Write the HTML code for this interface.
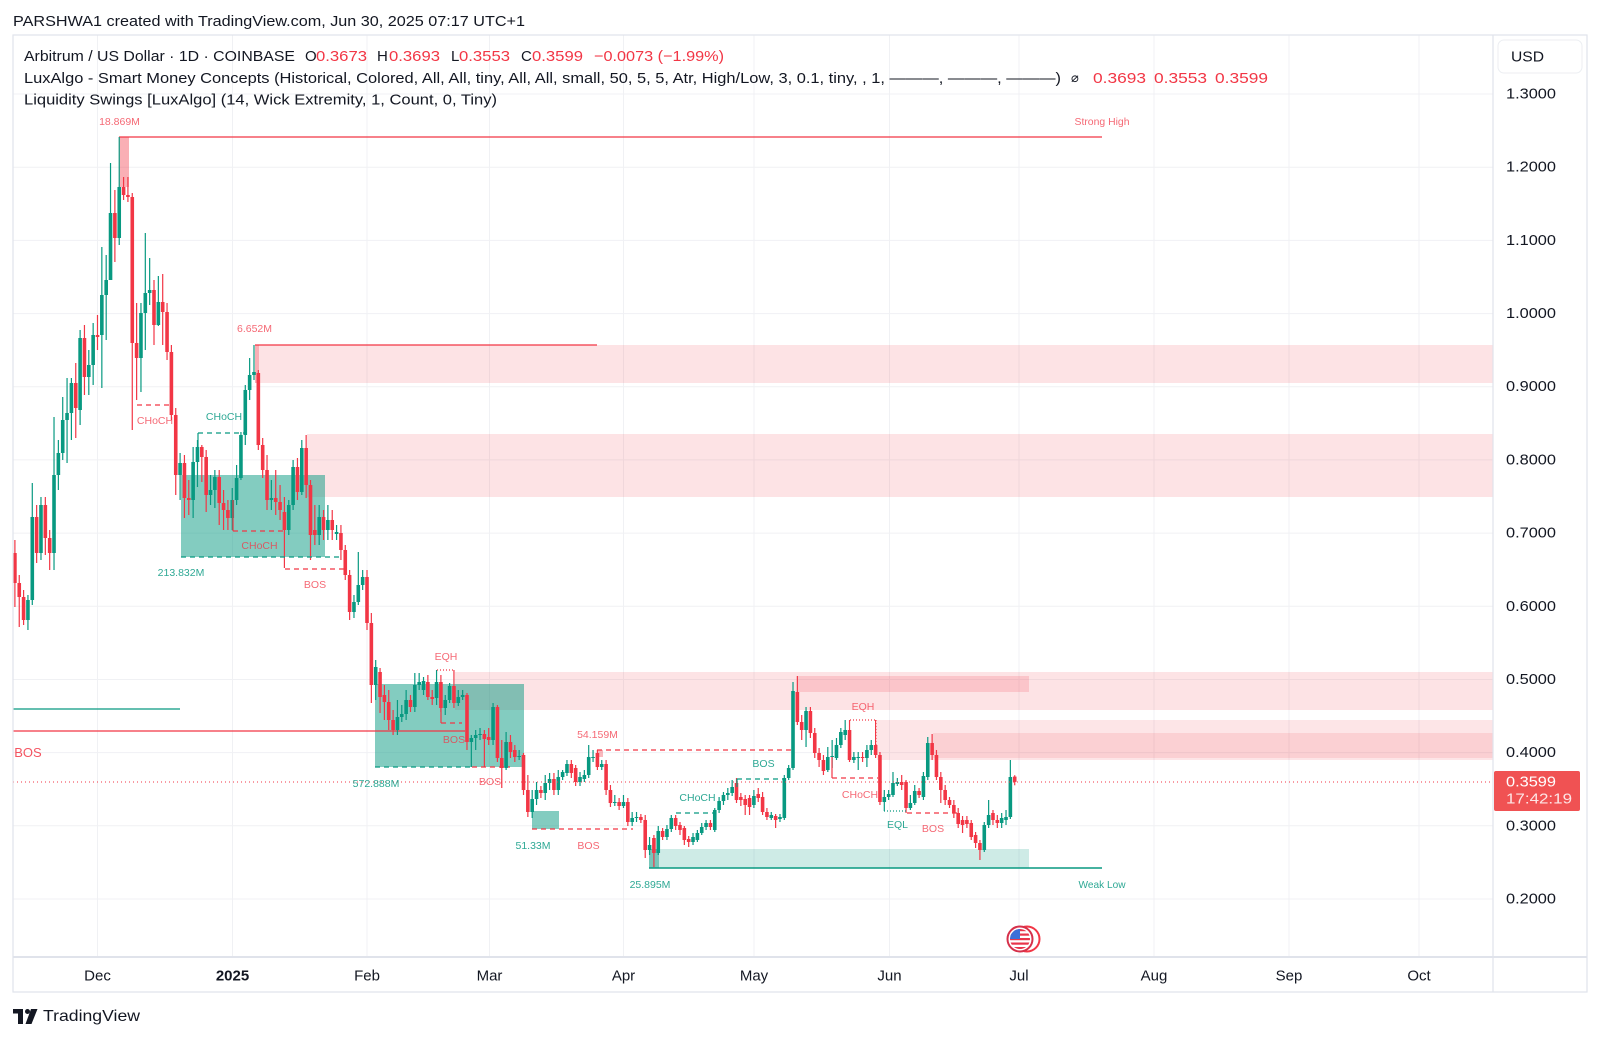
<!DOCTYPE html>
<html><head><meta charset="utf-8">
<style>
html,body{margin:0;padding:0;background:#fff;}
svg{display:block;font-family:"Liberation Sans","DejaVu Sans",sans-serif;}
.lg{font-size:15px;fill:#131722;}
.r{fill:#f23645;}
.ax{font-size:15px;fill:#131722;}
.lbr{font-size:10.5px;fill:#f23645;fill-opacity:0.75;}
.lbg{font-size:10.5px;fill:#089981;fill-opacity:0.85;}
</style></head>
<body>
<svg id="s" width="1600" height="1038" viewBox="0 0 1600 1038" xmlns="http://www.w3.org/2000/svg">
<rect x="0" y="0" width="1600" height="1038" fill="#fff"/>
<!-- grid -->
<g stroke="#f0f1f4" stroke-width="1">
<line x1="97.5" y1="35" x2="97.5" y2="957"/><line x1="232.5" y1="35" x2="232.5" y2="957"/>
<line x1="367" y1="35" x2="367" y2="957"/><line x1="489.5" y1="35" x2="489.5" y2="957"/>
<line x1="623.5" y1="35" x2="623.5" y2="957"/><line x1="754" y1="35" x2="754" y2="957"/>
<line x1="889.5" y1="35" x2="889.5" y2="957"/><line x1="1019" y1="35" x2="1019" y2="957"/>
<line x1="1154" y1="35" x2="1154" y2="957"/><line x1="1289" y1="35" x2="1289" y2="957"/>
<line x1="1419" y1="35" x2="1419" y2="957"/>
<line x1="13" y1="94" x2="1493" y2="94"/><line x1="13" y1="167.2" x2="1493" y2="167.2"/>
<line x1="13" y1="240.4" x2="1493" y2="240.4"/><line x1="13" y1="313.6" x2="1493" y2="313.6"/>
<line x1="13" y1="386.7" x2="1493" y2="386.7"/><line x1="13" y1="459.9" x2="1493" y2="459.9"/>
<line x1="13" y1="533.1" x2="1493" y2="533.1"/><line x1="13" y1="606.3" x2="1493" y2="606.3"/>
<line x1="13" y1="679.5" x2="1493" y2="679.5"/><line x1="13" y1="752.6" x2="1493" y2="752.6"/>
<line x1="13" y1="825.8" x2="1493" y2="825.8"/><line x1="13" y1="899" x2="1493" y2="899"/>
</g>
<!-- zones -->
<g fill="#f23645">
<rect x="255" y="345" width="1238" height="38" fill-opacity="0.14"/>
<rect x="255" y="345" width="4" height="38" fill-opacity="0.3"/>
<rect x="307" y="434" width="1186" height="63" fill-opacity="0.14"/>
<rect x="455" y="672" width="1038" height="38" fill-opacity="0.14"/>
<rect x="797" y="676" width="232" height="16" fill-opacity="0.17"/>
<rect x="877" y="720" width="616" height="40" fill-opacity="0.13"/>
<rect x="933" y="733" width="560" height="25" fill-opacity="0.12"/>
<rect x="119" y="137" width="10" height="50" fill-opacity="0.4"/>
<rect x="597" y="750" width="6" height="7" fill-opacity="0.35"/>
</g>
<g fill="#089981">
<rect x="181" y="475" width="144" height="82" fill-opacity="0.5"/>
<rect x="375" y="684" width="149" height="83" fill-opacity="0.5"/>
<rect x="532" y="811" width="27" height="18" fill-opacity="0.5"/>
<rect x="649" y="849" width="10" height="19" fill-opacity="0.55"/>
<rect x="659" y="849" width="370" height="19" fill-opacity="0.2"/>
</g>
<!-- solid lines -->
<g stroke-width="1.3" fill="none">
<line x1="119" y1="137" x2="1102" y2="137" stroke="#f23645"/>
<line x1="255" y1="345" x2="597" y2="345" stroke="#f23645"/>
<line x1="13" y1="709" x2="180" y2="709" stroke="#089981"/>
<line x1="13" y1="731" x2="465" y2="731" stroke="#f23645"/>
<line x1="649" y1="868" x2="1102" y2="868" stroke="#089981" stroke-width="1.6"/>
</g>
<!-- candles -->
<g id="candles"></g>
<!-- current price line -->
<line x1="13" y1="782" x2="1493" y2="782" stroke="#f23645" stroke-width="1" stroke-dasharray="1,3"/>
<!-- dashed structure -->
<g fill="none" stroke-width="1.2" stroke-dasharray="5,4">
<line x1="137" y1="405" x2="172" y2="405" stroke="#f23645"/>
<line x1="198" y1="433" x2="245" y2="433" stroke="#089981"/>
<line x1="233" y1="531" x2="285" y2="531" stroke="#f23645"/>
<line x1="285" y1="569" x2="345" y2="569" stroke="#f23645"/>
<line x1="181" y1="557" x2="342" y2="557" stroke="#089981"/>
<line x1="441" y1="723" x2="462" y2="723" stroke="#f23645"/>
<line x1="375" y1="767" x2="470" y2="767" stroke="#089981"/>
<line x1="472" y1="767" x2="510" y2="767" stroke="#f23645"/>
<line x1="532" y1="829" x2="633" y2="829" stroke="#f23645"/>
<line x1="597" y1="750" x2="792" y2="750" stroke="#f23645"/>
<line x1="676" y1="813" x2="713" y2="813" stroke="#089981"/>
<line x1="737" y1="779" x2="785" y2="779" stroke="#089981"/>
<line x1="832" y1="778" x2="878" y2="778" stroke="#f23645"/>
<line x1="907" y1="813" x2="957" y2="813" stroke="#f23645"/>
</g>
<g fill="none" stroke-width="1.2">
<line x1="198" y1="433" x2="198" y2="447" stroke="#089981"/>
<line x1="233" y1="500" x2="233" y2="531" stroke="#f23645"/>
<line x1="441" y1="707" x2="441" y2="723" stroke="#f23645"/>
<line x1="737" y1="779" x2="737" y2="787" stroke="#089981"/>
<line x1="832" y1="757" x2="832" y2="778" stroke="#f23645"/>
<line x1="437" y1="670" x2="454" y2="670" stroke="#f23645" stroke-dasharray="1,2"/>
<line x1="850" y1="720" x2="876" y2="720" stroke="#f23645" stroke-dasharray="1,2"/>
<line x1="876" y1="720" x2="876" y2="755" stroke="#f23645" stroke-dasharray="1,2"/>
<line x1="884" y1="811" x2="907" y2="811" stroke="#089981" stroke-dasharray="1,2"/>
</g>
<!-- labels -->
<g text-anchor="middle" dominant-baseline="central">
<text class="lbr" x="119.5" y="122">18.869M</text>
<text class="lbr" x="1102" y="122" textLength="55" lengthAdjust="spacingAndGlyphs">Strong High</text>
<text class="lbr" x="254.5" y="329">6.652M</text>
<text class="lbr" x="155" y="421">CHoCH</text>
<text class="lbg" x="224" y="417">CHoCH</text>
<text class="lbg" x="181" y="573">213.832M</text>
<text class="lbr" x="259.5" y="546">CHoCH</text>
<text class="lbr" x="315" y="585">BOS</text>
<text class="lbr" x="446" y="657">EQH</text>
<text class="lbr" x="454" y="740">BOS</text>
<text class="lbr" x="490" y="782">BOS</text>
<text class="lbg" x="376" y="784">572.888M</text>
<text class="lbr" x="597.5" y="735">54.159M</text>
<text class="lbg" x="533" y="846">51.33M</text>
<text class="lbr" x="588.5" y="846">BOS</text>
<text class="lbg" x="697.5" y="798">CHoCH</text>
<text class="lbg" x="763.5" y="764">BOS</text>
<text class="lbr" x="863" y="707">EQH</text>
<text class="lbr" x="860" y="795">CHoCH</text>
<text class="lbg" x="897.5" y="825">EQL</text>
<text class="lbr" x="933" y="829">BOS</text>
<text class="lbg" x="650" y="885">25.895M</text>
<text class="lbg" x="1102" y="885" textLength="47" lengthAdjust="spacingAndGlyphs">Weak Low</text>
<text x="28" y="752.5" style="font-size:13px;fill:#f23645;fill-opacity:0.85">BOS</text>
</g>
<!-- flag icon -->
<defs><clipPath id="fc"><circle cx="1020" cy="939" r="10"/></clipPath></defs>
<circle cx="1027" cy="939" r="12.5" fill="#fff" stroke="#f23645" stroke-width="2"/>
<circle cx="1020" cy="939" r="12.5" fill="#fff" stroke="#d6304a" stroke-width="2"/>
<g clip-path="url(#fc)">
<rect x="1008" y="927" width="24" height="24" fill="#fff"/>
<rect x="1008" y="929" width="24" height="2.2" fill="#e8344a"/>
<rect x="1008" y="933.5" width="24" height="2.2" fill="#e8344a"/>
<rect x="1008" y="938" width="24" height="2.2" fill="#e8344a"/>
<rect x="1008" y="942.5" width="24" height="2.2" fill="#e8344a"/>
<rect x="1008" y="947" width="24" height="2.2" fill="#e8344a"/>
<rect x="1008" y="927" width="12" height="12" fill="#3c6fd8"/>
</g>
<!-- borders -->
<g stroke="#e0e3eb" stroke-width="1.2" fill="none">
<rect x="13" y="35" width="1574" height="957"/>
<line x1="1493" y1="35" x2="1493" y2="992"/>
<line x1="13" y1="957" x2="1587" y2="957" stroke-width="2"/>
</g>
<rect x="1498" y="40" width="84" height="33" rx="6" fill="#fff" stroke="#eceef2"/>
<text class="ax" x="1511" y="57" dominant-baseline="central" textLength="33" lengthAdjust="spacingAndGlyphs">USD</text>
<!-- price axis -->
<g class="ax" dominant-baseline="central">
<text x="1506" y="94" textLength="50" lengthAdjust="spacingAndGlyphs">1.3000</text>
<text x="1506" y="167.2" textLength="50" lengthAdjust="spacingAndGlyphs">1.2000</text>
<text x="1506" y="240.4" textLength="50" lengthAdjust="spacingAndGlyphs">1.1000</text>
<text x="1506" y="313.6" textLength="50" lengthAdjust="spacingAndGlyphs">1.0000</text>
<text x="1506" y="386.7" textLength="50" lengthAdjust="spacingAndGlyphs">0.9000</text>
<text x="1506" y="459.9" textLength="50" lengthAdjust="spacingAndGlyphs">0.8000</text>
<text x="1506" y="533.1" textLength="50" lengthAdjust="spacingAndGlyphs">0.7000</text>
<text x="1506" y="606.3" textLength="50" lengthAdjust="spacingAndGlyphs">0.6000</text>
<text x="1506" y="679.5" textLength="50" lengthAdjust="spacingAndGlyphs">0.5000</text>
<text x="1506" y="752.6" textLength="50" lengthAdjust="spacingAndGlyphs">0.4000</text>
<text x="1506" y="825.8" textLength="50" lengthAdjust="spacingAndGlyphs">0.3000</text>
<text x="1506" y="899" textLength="50" lengthAdjust="spacingAndGlyphs">0.2000</text>
</g>
<rect x="1494" y="771" width="86" height="40" rx="2" fill="#f05253"/>
<text x="1506" y="782" dominant-baseline="central" style="font-size:15px;fill:#fff" textLength="50" lengthAdjust="spacingAndGlyphs">0.3599</text>
<text x="1506" y="799" dominant-baseline="central" style="font-size:15px;fill:#fff;fill-opacity:0.85" textLength="66" lengthAdjust="spacingAndGlyphs">17:42:19</text>
<!-- time axis -->
<g class="ax" text-anchor="middle" dominant-baseline="central">
<text x="97.5" y="976">Dec</text>
<text x="232.5" y="976" style="font-weight:bold">2025</text>
<text x="367" y="976">Feb</text>
<text x="489.5" y="976">Mar</text>
<text x="623.5" y="976">Apr</text>
<text x="754" y="976">May</text>
<text x="889.5" y="976">Jun</text>
<text x="1019" y="976">Jul</text>
<text x="1154" y="976">Aug</text>
<text x="1289" y="976">Sep</text>
<text x="1419" y="976">Oct</text>
</g>
<!-- header & legend -->
<g dominant-baseline="central">
<text class="lg" x="13" y="21.5" textLength="512" lengthAdjust="spacingAndGlyphs">PARSHWA1 created with TradingView.com, Jun 30, 2025 07:17 UTC+1</text>
<text class="lg" x="24" y="56.5" textLength="271" lengthAdjust="spacingAndGlyphs">Arbitrum / US Dollar · 1D · COINBASE</text>
<text class="lg" x="305" y="56.5">O</text><text class="lg r" x="316" y="56.5" textLength="51" lengthAdjust="spacingAndGlyphs">0.3673</text>
<text class="lg" x="377" y="56.5">H</text><text class="lg r" x="389" y="56.5" textLength="51" lengthAdjust="spacingAndGlyphs">0.3693</text>
<text class="lg" x="451" y="56.5">L</text><text class="lg r" x="459" y="56.5" textLength="51" lengthAdjust="spacingAndGlyphs">0.3553</text>
<text class="lg" x="521" y="56.5">C</text><text class="lg r" x="532" y="56.5" textLength="51" lengthAdjust="spacingAndGlyphs">0.3599</text>
<text class="lg r" x="594" y="56.5" textLength="130" lengthAdjust="spacingAndGlyphs">−0.0073 (−1.99%)</text>
<text class="lg" x="24" y="78.5" textLength="1037" lengthAdjust="spacingAndGlyphs">LuxAlgo - Smart Money Concepts (Historical, Colored, All, All, tiny, All, All, small, 50, 5, 5, Atr, High/Low, 3, 0.1, tiny, , 1, ———, ———, ———)</text>
<text class="lg" x="1071" y="78.5" style="font-family:'DejaVu Sans',sans-serif;font-size:13px">⌀</text>
<text class="lg r" x="1093" y="78.5" textLength="53" lengthAdjust="spacingAndGlyphs">0.3693</text>
<text class="lg r" x="1154" y="78.5" textLength="53" lengthAdjust="spacingAndGlyphs">0.3553</text>
<text class="lg r" x="1215" y="78.5" textLength="53" lengthAdjust="spacingAndGlyphs">0.3599</text>
<text class="lg" x="24" y="100" textLength="473" lengthAdjust="spacingAndGlyphs">Liquidity Swings [LuxAlgo] (14, Wick Extremity, 1, Count, 0, Tiny)</text>
</g>
<!-- footer logo -->
<g fill="#131722">
<rect x="13" y="1009" width="10" height="4.5"/>
<rect x="18" y="1009" width="5" height="15"/>
<circle cx="27.5" cy="1011.5" r="2.5"/>
<polygon points="31,1009 37.5,1009 31.5,1024 25.5,1024"/>
</g>
<text x="43" y="1016.5" dominant-baseline="central" style="font-size:16px;fill:#131722" textLength="97" lengthAdjust="spacingAndGlyphs">TradingView</text>
</svg>
<script>
(function(){
var d=[
[553,583,540,607],[583,597,575,627],[597,620,590,625],[620,600,595,630],[600,517,483,605],
[517,553,505,563],[553,505,497,560],[505,538,497,555],[538,553,530,570],[553,475,417,570],
[475,453,440,490],[453,420,397,460],[420,413,378,463],[413,383,378,440],[383,408,363,438],
[410,338,330,425],[338,377,325,395],[377,365,350,395],[365,335,323,385],[335,337,315,350],
[335,295,247,388],[295,280,255,340],[280,213,163,280],[213,238,190,262],[238,187,137,245],
[187,195,177,200],[195,197,177,202],[197,343,193,430],[343,358,303,400],[358,313,303,392],
[313,293,233,350],[293,290,258,305],[290,325,280,345],[325,302,276,326],[302,312,274,345],
[312,352,303,360],[352,415,345,420],[415,475,408,495],[475,463,453,500],[463,498,455,518],
[498,500,480,515],[500,462,447,518],[462,447,440,487],[447,457,445,482],[457,495,450,512],
[495,490,475,505],[490,477,470,508],[477,503,470,525],[503,510,490,530],[510,518,500,530],
[518,500,488,530],[500,478,465,505],[478,435,432,480],[435,390,385,445],[390,375,358,400],
[375,372,345,380],[373,445,370,450],[445,470,438,478],[470,500,455,510],[500,498,480,510],
[498,502,470,515],[502,510,485,520],[512,530,497,568],[530,505,500,535],[505,467,460,510],
[467,492,458,500],[492,448,440,495],[448,485,435,498],[485,535,480,560],[530,535,505,545],
[535,517,505,545],[517,530,510,540],[530,520,505,540],[520,530,510,540],[534,532,525,540],
[533,550,525,560],[550,575,545,580],[575,612,570,620],[612,602,595,618],[602,585,552,605],
[585,577,570,590],[577,623,570,630],[623,685,613,703],[685,667,660,700],[672,697,668,713],
[695,702,685,720],[702,720,690,730],[720,730,710,735],[730,717,700,735],[717,714,705,722],
[714,700,690,720],[700,707,695,712],[707,685,673,712],[685,682,673,690],[690,681,677,695],
[682,697,675,700],[697,699,690,705],[698,682,670,705],[682,708,675,712],[708,700,695,715],
[700,686,683,703],[686,703,670,708],[703,697,690,706],[697,695,690,700],[695,742,693,750],
[742,738,735,767],[738,735,730,750],[735,734,728,740],[734,739,730,767],[737,740,728,745],
[740,707,703,745],[707,758,705,762],[758,768,740,788],[768,742,732,770],[742,752,735,758],
[750,757,745,762],[757,756,750,760],[755,790,753,795],[790,812,775,817],[812,799,790,818],
[799,790,782,805],[790,793,786,798],[793,783,775,800],[783,779,773,790],[779,790,773,795],
[790,777,770,795],[777,772,770,780],[773,764,760,776],[764,773,760,778],[768,782,765,786],
[782,777,772,786],[779,775,770,782],[775,757,745,778],[758,757,750,762],[753,767,750,770],
[767,764,760,770],[764,790,760,795],[790,803,785,807],[803,802,795,806],[802,806,798,810],
[806,802,795,808],[802,822,798,826],[822,818,812,826],[818,817,812,822],[817,820,814,823],
[820,850,815,858],[850,845,837,855],[838,853,835,867],[853,831,826,855],[831,837,828,840],
[837,829,825,840],[829,818,815,832],[818,826,815,830],[825,830,822,835],[828,840,826,845],
[839,842,836,847],[842,837,833,845],[840,833,830,842],[833,827,823,835],[827,823,820,830],
[823,827,820,830],[830,810,808,832],[810,801,797,813],[801,795,792,805],[795,793,788,800],
[793,787,780,796],[783,800,778,803],[797,800,793,806],[799,805,795,815],[798,807,795,815],
[805,796,790,808],[794,798,788,802],[797,812,792,815],[812,817,808,820],[818,815,812,820],
[816,820,814,828],[819,817,814,822],[818,778,775,820],[778,768,765,780],[768,691,682,770],
[692,722,676,725],[722,730,715,740],[730,711,707,747],[711,733,707,738],[733,753,728,758],
[753,760,748,767],[760,771,755,775],[770,757,747,772],[757,756,740,768],[758,745,738,760],
[745,732,728,748],[735,730,720,740],[730,760,720,762],[760,757,752,763],[758,757,752,770],
[757,758,752,762],[758,750,745,767],[750,745,740,755],[745,755,720,758],[755,802,752,805],
[802,797,790,811],[797,794,790,800],[795,783,772,797],[784,782,778,786],[782,785,775,790],
[782,808,780,813],[808,803,795,810],[803,791,785,805],[791,795,788,798],[797,776,772,800],
[777,743,737,780],[743,755,734,760],[755,777,750,780],[777,790,772,803],[790,800,785,805],
[800,805,797,808],[805,813,800,818],[813,824,808,828],[820,825,816,833],[820,824,816,828],
[823,837,820,840],[835,843,832,848],[843,850,840,860],[850,825,822,852],[825,815,800,828],
[813,820,810,825],[820,823,815,828],[823,818,813,828],[820,817,810,825],[817,777,760,819],
[776.6,781.9,775.2,785.3]
];
var g=document.getElementById('candles'),ns='http://www.w3.org/2000/svg',h='';
for(var i=0;i<d.length;i++){
 var x=14.9+i*4.347,o=d[i][0],c=d[i][1],hi=d[i][2],lo=d[i][3];
 var col=(c<=o)?'#089981':'#f23645';
 var top=Math.min(o,c),bh=Math.max(1,Math.abs(o-c));
 h+='<line x1="'+x.toFixed(2)+'" y1="'+hi+'" x2="'+x.toFixed(2)+'" y2="'+lo+'" stroke="'+col+'" stroke-width="1.2"/>';
 h+='<rect x="'+(x-1.8).toFixed(2)+'" y="'+top+'" width="3.6" height="'+bh+'" fill="'+col+'"/>';
}
var tmp=document.createElementNS(ns,'svg');
tmp.innerHTML=h;
while(tmp.firstChild){g.appendChild(tmp.firstChild);}
})();
</script>
</body></html>
